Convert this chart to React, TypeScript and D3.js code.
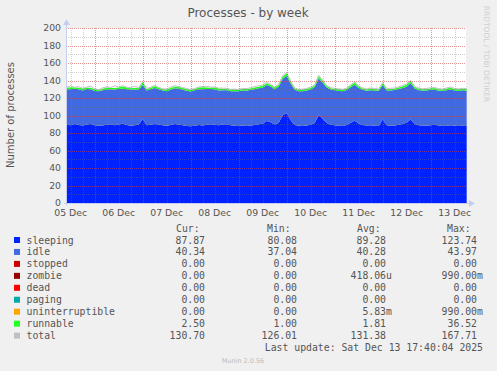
import * as d3 from "d3";

// series sampled every 2 hours, starting 05 Dec 10:00
const sleeping = [
  89.5, 88.9, 90.2, 89.1, 88.6, 89.8, 90.4, 89.0, 88.3, 88.7,
  89.4, 90.1, 88.8, 89.6, 90.5, 89.2, 88.4, 89.0, 89.7, 95.8,
  88.9, 89.3, 90.2, 89.6, 88.8, 88.2, 89.1, 90.3, 89.8, 88.9,
  88.1, 87.6, 88.4, 89.2, 88.7, 89.5, 90.1, 89.4, 88.9, 89.6,
  90.0, 88.8, 88.2, 87.9, 88.5, 88.0, 88.6, 89.1, 89.9, 90.6,
  93.8, 92.4, 89.6, 91.8, 100.2, 102.6, 94.5, 89.1, 88.2, 88.0,
  88.6, 89.3, 91.5, 100.4, 96.2, 91.3, 89.4, 88.9, 88.3, 88.0,
  89.1, 91.6, 93.9, 90.8, 89.2, 88.6, 89.0, 88.4, 88.1, 95.4,
  88.9, 88.3, 88.6, 89.5, 90.2, 92.1, 95.3, 90.4, 89.0, 88.7,
  88.2, 88.9, 89.3, 88.6, 88.0, 88.4, 88.9, 88.2, 87.9, 88.3, 87.9,
];
const idle = [
  40.6, 41.2, 40.3, 40.8, 39.9, 40.5, 39.6, 38.9, 39.3, 40.1,
  40.4, 39.8, 40.7, 41.0, 40.2, 40.9, 41.3, 40.5, 40.0, 39.2,
  39.8, 40.6, 41.1, 40.4, 39.9, 39.5, 40.2, 40.8, 41.2, 40.6,
  40.3, 39.9, 40.5, 40.9, 41.4, 40.8, 40.2, 40.6, 39.7, 39.4,
  39.0, 38.8, 39.4, 39.8, 40.1, 40.3, 40.7, 40.9, 41.3, 41.1,
  41.2, 40.8, 40.5, 41.0, 41.8, 42.6, 41.9, 40.2, 39.6, 39.8,
  40.1, 40.4, 41.0, 41.9, 41.2, 40.6, 40.2, 40.0, 39.8, 39.6,
  40.0, 40.7, 41.3, 40.5, 40.1, 39.7, 40.0, 40.3, 40.1, 39.2,
  39.8, 40.2, 40.5, 40.8, 41.1, 40.9, 41.6, 40.4, 40.0, 39.9,
  40.3, 40.5, 40.1, 39.8, 40.2, 40.6, 40.9, 40.4, 40.2, 40.5, 40.3,
];
const runnable = [
  1.6, 2.1, 1.4, 1.9, 2.3, 1.5, 1.8, 2.0, 1.3, 1.7,
  2.2, 1.6, 1.9, 1.4, 2.4, 1.8, 1.5, 2.0, 1.7, 2.6,
  1.5, 1.8, 2.1, 1.6, 1.4, 1.9, 2.2, 1.7, 1.5, 1.8,
  2.0, 1.6, 1.3, 1.8, 2.1, 1.7, 1.5, 1.9, 2.2, 1.6,
  1.4, 1.8, 2.0, 1.5, 1.7, 1.9, 1.6, 2.1, 1.8, 2.3,
  2.0, 1.7, 1.9, 2.2, 2.5, 2.8, 2.1, 1.6, 1.5, 1.8,
  1.7, 2.0, 1.9, 2.7, 2.2, 1.8, 1.6, 1.5, 1.9, 1.7,
  1.6, 2.0, 2.4, 1.9, 1.7, 1.5, 1.8, 1.6, 1.4, 2.3,
  1.7, 1.9, 1.6, 1.8, 2.0, 2.2, 2.6, 1.9, 1.7, 1.5,
  1.8, 1.6, 1.9, 1.7, 1.5, 1.8, 2.0, 1.6, 1.9, 1.7, 2.5,
];
const total = [
  132.4, 133.9, 132.3, 133.0, 131.2, 132.5, 133.6, 130.4, 129.5, 131.6,
  132.8, 132.1, 133.9, 132.6, 134.0, 132.4, 131.9, 133.2, 132.0, 138.4,
  130.9, 132.3, 134.5, 132.1, 130.6, 130.3, 132.2, 134.1, 133.0, 131.9,
  130.9, 129.7, 130.8, 132.6, 133.1, 133.4, 132.5, 132.6, 131.3, 131.2,
  131.0, 129.9, 130.1, 129.8, 131.0, 130.7, 131.8, 133.0, 134.1, 135.0,
  137.9, 135.5, 132.6, 135.8, 145.6, 148.9, 139.4, 131.5, 129.9, 130.2,
  131.0, 132.5, 135.2, 146.1, 140.3, 134.3, 131.8, 131.0, 130.5, 129.9,
  131.3, 135.1, 138.2, 133.9, 131.6, 130.4, 131.5, 130.9, 130.2, 137.5,
  131.0, 131.1, 131.4, 132.9, 134.2, 135.9, 140.2, 133.3, 131.4, 130.6,
  130.9, 131.7, 132.0, 130.7, 130.2, 131.5, 132.6, 130.8, 130.5, 131.1, 130.7,
];

const legendNames = ["sleeping", "idle", "stopped", "zombie", "dead", "paging", "uninterruptible", "runnable", "total"];
const legendColors = ["#0022ff", "#4169e1", "#cc0000", "#990000", "#ff0000", "#00aaaa", "#ffa500", "#22ff22", "#c0c0c0"];
const curVals = ["87.87", "40.34", "0.00", "0.00", "0.00", "0.00", "0.00", "2.50", "130.70"];
const minVals = ["80.08", "37.04", "0.00", "0.00", "0.00", "0.00", "0.00", "1.00", "126.01"];
const avgVals = ["89.28", "40.28", "0.00", "418.06u", "0.00", "0.00", "5.83m", "1.81", "131.38"];
const maxVals = ["123.74", "43.97", "0.00", "990.00m", "0.00", "0.00", "990.00m", "36.52", "167.71"];
const yTicks = [0, 20, 40, 60, 80, 100, 120, 140, 160, 180, 200];

const W = 497;
const H = 371;
const plot = { left: 66, right: 466, top: 28, bottom: 203 };
const mono = "'DejaVu Sans Mono', monospace";
const sans = "'DejaVu Sans', sans-serif";
const minorStroke = "rgba(120,120,120,0.35)";
const majorStroke = "rgba(255,40,40,0.38)";
const axisColor = "#c8cdf0";

const start = new Date(2025, 11, 5, 9, 40);
const end = new Date(2025, 11, 13, 17, 40);

const App = () => {
  const x = d3.scaleTime().domain([start, end]).range([plot.left, plot.right]);
  const y = d3.scaleLinear().domain([0, 200]).range([plot.bottom, plot.top]);

  const rows = sleeping.map((s, i) => ({
    t: new Date(2025, 11, 5, 10 + 2 * i),
    sleeping: s,
    idle: idle[i],
    runnable: runnable[i],
    total: total[i],
  }));
  const keys = ["sleeping", "idle", "runnable"];
  const keyColor: Record<string, string> = { sleeping: "#0022ff", idle: "#4169e1", runnable: "#22ff22" };
  const stacked = d3.stack<any>().keys(keys)(rows);

  const area = d3
    .area<any>()
    .x((d) => x(d.data.t))
    .y0((d) => y(d[0]))
    .y1((d) => y(d[1]));
  const totalLine = d3
    .line<any>()
    .x((d) => x(d.t))
    .y((d) => y(d.total));

  const minorX = d3.timeHour.every(6)!.range(start, end);
  const majorX = d3.timeDay.range(start, end);
  const labelDays = d3.timeDay.range(new Date(2025, 11, 5), new Date(2025, 11, 14)).map((d) => d3.timeHour.offset(d, 12));
  const fmt = d3.timeFormat("%d %b");
  const minorY = d3.range(10, 201, 10);
  const px = (v: number) => Math.round(v) + 0.5;

  const rowY = (i: number) => 240 + i * 11.95;
  const cols = [
    { head: "Cur:", headX: 176, end: 205, vals: curVals },
    { head: "Min:", headX: 267, end: 297, vals: minVals },
    { head: "Avg:", headX: 357, end: 386, vals: avgVals },
    { head: "Max:", headX: 447, end: 477, vals: maxVals },
  ];

  return (
    <svg width={W} height={H} style={{ position: "absolute", left: 0, top: 0 }}>
      <rect width={W} height={H} fill="#f0f0f0" />
      <rect x={plot.left} y={plot.top} width={plot.right - plot.left} height={plot.bottom - plot.top} fill="#fff" />

      {stacked.map((s) => (
        <path key={s.key} d={area(s) ?? ""} fill={keyColor[s.key]} />
      ))}
      <path d={totalLine(rows) ?? ""} fill="none" stroke="#c0c0c0" strokeWidth={1} />

      {/* grid on top, like rrdtool */}
      {minorX.map((t) => (
        <line key={"mx" + t.getTime()} x1={px(x(t))} x2={px(x(t))} y1={plot.top} y2={plot.bottom} stroke={minorStroke} strokeDasharray="1,1" />
      ))}
      {minorY.map((v) => (
        <line key={"my" + v} x1={plot.left} x2={plot.right} y1={px(y(v))} y2={px(y(v))} stroke={minorStroke} strokeDasharray="1,1" />
      ))}
      {majorX.map((t) => (
        <line key={"Mx" + t.getTime()} x1={px(x(t))} x2={px(x(t))} y1={plot.top} y2={plot.bottom} stroke={majorStroke} strokeDasharray="1,1" />
      ))}
      {yTicks.slice(1).map((v) => (
        <line key={"My" + v} x1={plot.left} x2={plot.right} y1={px(y(v))} y2={px(y(v))} stroke={majorStroke} strokeDasharray="1,1" />
      ))}

      {/* axes */}
      <line x1={plot.left + 0.5} x2={plot.left + 0.5} y1={plot.bottom + 2} y2={plot.top - 4} stroke={axisColor} />
      <line x1={plot.left - 2} x2={plot.right + 4} y1={plot.bottom + 0.5} y2={plot.bottom + 0.5} stroke={axisColor} />
      <path d={`M${plot.left - 3},${plot.top - 3} L${plot.left + 0.5},${plot.top - 9} L${plot.left + 4},${plot.top - 3} Z`} fill={axisColor} />
      <path d={`M${plot.right + 3},${plot.bottom - 3} L${plot.right + 9},${plot.bottom + 0.5} L${plot.right + 3},${plot.bottom + 4} Z`} fill={axisColor} />

      {yTicks.map((v) => (
        <text key={"yl" + v} x={61} y={y(v) + 3.3} fontSize={9.3} fontFamily={sans} textAnchor="end" fill="#555">
          {v}
        </text>
      ))}
      {labelDays.map((t) => (
        <text key={"xl" + t.getTime()} x={x(t)} y={216} fontSize={9.3} fontFamily={sans} textAnchor="middle" fill="#555">
          {fmt(t)}
        </text>
      ))}

      <text x={248} y={17} fontSize={12} fontFamily={sans} textAnchor="middle" fill="#555">
        Processes - by week
      </text>
      <text transform="translate(14,115) rotate(-90)" fontSize={10} fontFamily={sans} textAnchor="middle" fill="#555">
        Number of processes
      </text>
      <text transform="translate(484,54) rotate(90)" fontSize={7.5} fontFamily={sans} textAnchor="middle" fill="#cfcfcf">
        RRDTOOL / TOBI OETIKER
      </text>

      {/* legend */}
      {cols.map((c) => (
        <text key={c.head} x={c.headX} y={228 + 3.5} fontSize={9.8} fontFamily={mono} fill="#555">
          {c.head}
        </text>
      ))}
      {legendNames.map((name, i) => (
        <g key={name}>
          <rect x={14} y={rowY(i) - 3} width={6} height={6} fill={legendColors[i]} />
          <text x={26.5} y={rowY(i) + 3.5} fontSize={9.8} fontFamily={mono} fill="#555">
            {name}
          </text>
          {cols.map((c) => {
            const v = c.vals[i];
            const unit = /[a-z]$/.test(v) ? v.slice(-1) : "";
            const num = unit ? v.slice(0, -1) : v;
            return (
              <g key={c.head}>
                <text x={c.end} y={rowY(i) + 3.5} fontSize={9.8} fontFamily={mono} fill="#555" textAnchor="end">
                  {num}
                </text>
                {unit && (
                  <text x={c.end} y={rowY(i) + 3.5} fontSize={9.8} fontFamily={mono} fill="#555">
                    {unit}
                  </text>
                )}
              </g>
            );
          })}
        </g>
      ))}
      <text x={483} y={rowY(9) + 3.5} fontSize={9.8} fontFamily={mono} fill="#555" textAnchor="end">
        Last update: Sat Dec 13 17:40:04 2025
      </text>
      <text x={243} y={363} fontSize={6.5} fontFamily={sans} textAnchor="middle" fill="#bbb">
        Munin 2.0.56
      </text>
    </svg>
  );
};

export default App;
